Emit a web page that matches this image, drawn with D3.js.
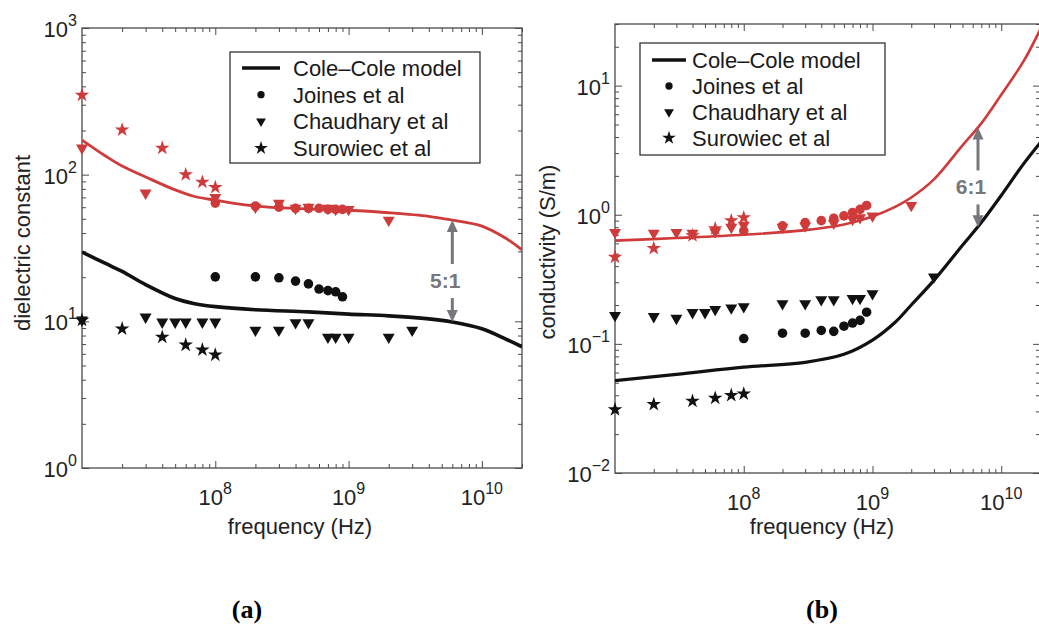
<!DOCTYPE html>
<html>
<head>
<meta charset="utf-8">
<script src="https://cdn.jsdelivr.net/npm/d3@7"></script>
<style>
  body { margin: 0; background: #fff; }
  text { font-family: "Liberation Sans", Arial, Helvetica, sans-serif; }
</style>
</head>
<body>
<div id="chart"></div>
<script>
// ---- data ----
const xTicks = [1e8, 1e9, 1e10];
const xDomain = [1e7, 2e10];
const epsTicks = [1, 10, 100, 1000];
const sigTicks = [0.01, 0.1, 1, 10];

// Cole-Cole model curves, panel (a) dielectric constant
const epsModelFreq = [1e7, 1.5e7, 2e7, 3e7, 5e7, 7e7, 1e8, 2e8, 5e8, 1e9, 2e9, 4e9, 6e9, 1e10, 1.5e10, 2e10];
const epsModelRed = [172, 134, 114.5, 96.5, 78.7, 71, 67, 61, 58.5, 57.2, 55, 52, 49, 44.6, 37, 30.7];
const epsModelBlack = [29.7, 24.8, 21.9, 17.8, 14.3, 13.2, 12.6, 12.0, 11.6, 11.2, 10.9, 10.4, 9.9, 8.9, 7.6, 6.7];

// Cole-Cole model curves, panel (b) conductivity
const sigModelFreq = [1e7, 3e7, 1e8, 3e8, 6e8, 1e9, 1.5e9, 2e9, 3e9, 5e9, 7e9, 1e10, 1.5e10, 2e10];
const sigModelRed = [0.63, 0.66, 0.70, 0.76, 0.84, 0.97, 1.15, 1.36, 1.88, 3.45, 5.1, 8.5, 15.6, 27];
const sigModelBlack = [0.052, 0.058, 0.066, 0.072, 0.083, 0.107, 0.147, 0.20, 0.31, 0.58, 0.87, 1.41, 2.5, 3.6];

// Joines et al
const joinesFreq = [1e8, 2e8, 3e8, 4e8, 5e8, 6e8, 7e8, 8e8, 9e8];
const epsJoinesRed = [64, 61, 60, 59, 59, 59, 58, 58, 58];
const epsJoinesBlack = [20.1, 20.1, 19.8, 18.8, 18.0, 16.6, 16.2, 15.9, 14.7];
const sigJoinesRed = [0.75, 0.82, 0.87, 0.90, 0.94, 0.98, 1.04, 1.10, 1.18];
const sigJoinesBlack = [0.110, 0.121, 0.121, 0.127, 0.125, 0.137, 0.145, 0.152, 0.176];

// Chaudhary et al
const epsChaudBlackFreq = [1e7, 3e7, 4e7, 5e7, 6e7, 8e7, 1e8, 2e8, 3e8, 4e8, 5e8, 7e8, 8e8, 1e9, 2e9, 3e9];
const epsChaudBlack = [10.2, 10.7, 9.9, 9.9, 9.9, 9.9, 9.9, 8.7, 8.7, 9.8, 9.8, 7.8, 7.8, 7.8, 7.8, 8.7];
const epsChaudRedFreq = [1e7, 3e7, 1e8, 2e8, 3e8, 4e8, 5e8, 7e8, 8e8, 1e9, 2e9];
const epsChaudRed = [152, 75, 70, 60, 64, 59, 60, 59, 58, 58, 49];
const sigChaudBlackFreq = [1e7, 2e7, 3e7, 4e7, 5e7, 6e7, 8e7, 1e8, 2e8, 3e8, 4e8, 5e8, 7e8, 8e8, 1e9, 3e9];
const sigChaudBlack = [0.166, 0.163, 0.158, 0.175, 0.175, 0.185, 0.19, 0.194, 0.205, 0.205, 0.22, 0.22, 0.225, 0.225, 0.245, 0.33];
const sigChaudRedFreq = [1e7, 2e7, 3e7, 4e7, 6e7, 8e7, 1e8, 2e8, 3e8, 5e8, 7e8, 8e8, 1e9, 2e9];
const sigChaudRed = [0.73, 0.72, 0.73, 0.72, 0.74, 0.80, 0.83, 0.80, 0.82, 0.86, 0.92, 0.95, 0.98, 1.18];

// Surowiec et al
const surFreq = [1e7, 2e7, 4e7, 6e7, 8e7, 1e8];
const epsSurRed = [349, 202, 152, 100, 89, 82];
const epsSurBlack = [10.2, 8.9, 7.8, 6.9, 6.4, 5.9];
const sigSurRed = [0.47, 0.55, 0.69, 0.78, 0.90, 0.95];
const sigSurBlack = [0.031, 0.034, 0.036, 0.038, 0.040, 0.041];

// ratio arrows
const ratioFreq = [6e9, 6.6e9];
const ratioTop = [49, 4.73];
const ratioBottom = [9.9, 0.80];
const ratioLabels = ["5:1", "6:1"];

const legendLabels = ["Cole\u2013Cole model", "Joines et al", "Chaudhary et al", "Surowiec et al"];

const red = "#cf3a3a";
const black = "#111";
const axisColor = "#4a4a4a";
const arrowColor = "#76767c";

const svg = d3.select("#chart")
    .append("svg")
    .attr("width", 1039)
    .attr("height", 630);

const symbols = {
    circle: d3.symbol().type(d3.symbolCircle).size(72),
    tri: d3.symbol().type(d3.symbolTriangle).size(62),
    star: d3.symbol().type(d3.symbolStar).size(66)
};
const legendSymbols = {
    circle: d3.symbol().type(d3.symbolCircle).size(42),
    tri: d3.symbol().type(d3.symbolTriangle).size(42),
    star: d3.symbol().type(d3.symbolStar).size(58)
};

const pairs = (f, v) => f.map((d, i) => ({f: d, v: v[i]}));

const minorTicks = (domain) => {
    const out = [];
    for (let e = Math.floor(Math.log10(domain[0])); e <= Math.ceil(Math.log10(domain[1])); e++) {
        for (let m = 2; m <= 9; m++) {
            const v = m * Math.pow(10, e);
            if (v >= domain[0] && v <= domain[1]) out.push(v);
        }
    }
    return out;
};

// "10" with a raised exponent
const powLabel = (sel) => {
    sel.each(function (d) {
        const t = d3.select(this);
        t.text(null);
        t.append("tspan").text("10");
        t.append("tspan")
            .attr("dy", -11)
            .style("font-size", "16px")
            .text(String(Math.round(Math.log10(d))).replace("-", "\u2212"));
    });
};

const drawPanel = (p) => {
    const x = d3.scaleLog().domain(xDomain).range(p.xRange);
    const y = d3.scaleLog().domain(p.yDomain).range(p.yRange);
    const g = svg.append("g");
    const [x0, x1] = p.xRange;
    const [y0, y1] = p.yRange;

    g.append("clipPath").attr("id", "clip" + p.id)
        .append("rect")
        .attr("x", x0).attr("y", y1)
        .attr("width", x1 - x0).attr("height", y0 - y1);

    // ticks (inward, mirrored)
    const xMinor = minorTicks(xDomain);
    const yMinor = minorTicks(p.yDomain);
    const tickAxes = [
        [d3.axisBottom(x).tickValues(xTicks).tickSize(-7), `translate(0,${y0})`],
        [d3.axisBottom(x).tickValues(xMinor).tickSize(-4), `translate(0,${y0})`],
        [d3.axisTop(x).tickValues(xTicks).tickSize(-7), `translate(0,${y1})`],
        [d3.axisTop(x).tickValues(xMinor).tickSize(-4), `translate(0,${y1})`],
        [d3.axisLeft(y).tickValues(p.yTicks).tickSize(-7), `translate(${x0},0)`],
        [d3.axisLeft(y).tickValues(yMinor).tickSize(-4), `translate(${x0},0)`],
        [d3.axisRight(y).tickValues(p.yTicks).tickSize(-7), `translate(${x1},0)`],
        [d3.axisRight(y).tickValues(yMinor).tickSize(-4), `translate(${x1},0)`]
    ];
    tickAxes.forEach(([ax, tr]) => {
        g.append("g")
            .attr("transform", tr)
            .call(ax.tickFormat(""))
            .call(a => a.select(".domain").remove())
            .call(a => a.selectAll("line").attr("stroke", axisColor).attr("stroke-width", 1));
    });

    g.append("rect")
        .attr("x", x0).attr("y", y1)
        .attr("width", x1 - x0).attr("height", y0 - y1)
        .attr("fill", "none")
        .attr("stroke", axisColor)
        .attr("stroke-width", 1.3);

    // tick labels
    g.selectAll(".xlbl")
        .data(xTicks)
        .join("text")
        .attr("class", "xlbl")
        .attr("x", d => x(d))
        .attr("y", y0 + 37)
        .attr("text-anchor", "middle")
        .style("font-size", "22px")
        .attr("fill", "#222")
        .call(powLabel);

    g.selectAll(".ylbl")
        .data(p.yTicks)
        .join("text")
        .attr("class", "ylbl")
        .attr("x", x0 - 5)
        .attr("y", d => y(d) + 9)
        .attr("text-anchor", "end")
        .style("font-size", "22px")
        .attr("fill", "#222")
        .call(powLabel);

    // axis titles
    g.append("text")
        .attr("x", p.xLabelPos[0])
        .attr("y", p.xLabelPos[1])
        .attr("text-anchor", "middle")
        .style("font-size", "22px")
        .attr("fill", "#222")
        .text("frequency (Hz)");

    g.append("text")
        .attr("transform", `translate(${p.yLabelPos[0]},${p.yLabelPos[1]}) rotate(-90)`)
        .attr("text-anchor", "middle")
        .attr("dominant-baseline", "central")
        .style("font-size", "22px")
        .attr("fill", "#222")
        .text(p.yLabel);

    const plot = g.append("g").attr("clip-path", `url(#clip${p.id})`);

    // model curves
    const line = d3.line().x(d => x(d.f)).y(d => y(d.v)).curve(d3.curveCatmullRom.alpha(0.5));
    p.models.forEach(m => {
        plot.append("path")
            .datum(pairs(m.freq, m.vals))
            .attr("d", line)
            .attr("fill", "none")
            .attr("stroke", m.color)
            .attr("stroke-width", m.width);
    });

    // measured points (drawn over the frame, not clipped)
    p.series.forEach(s => {
        g.append("g")
            .selectAll("path")
            .data(pairs(s.freq, s.vals))
            .join("path")
            .attr("d", symbols[s.shape])
            .attr("transform", d => `translate(${x(d.f)},${y(d.v)})` + (s.shape === "tri" ? " rotate(180)" : ""))
            .attr("fill", s.color);
    });

    // ratio arrow
    const ax = x(ratioFreq[p.id]);
    const ayTop = y(ratioTop[p.id]);
    const ayBot = y(ratioBottom[p.id]);
    const ag = g.append("g");
    ag.append("line")
        .attr("x1", ax).attr("x2", ax)
        .attr("y1", ayTop + 8).attr("y2", ayBot - 8)
        .attr("stroke", arrowColor).attr("stroke-width", 3);
    ag.append("path")
        .attr("d", `M${ax},${ayTop} l-5.5,12 l11,0 Z`)
        .attr("fill", arrowColor);
    ag.append("path")
        .attr("d", `M${ax},${ayBot} l-5.5,-12 l11,0 Z`)
        .attr("fill", arrowColor);
    const ly = (ayTop + ayBot) / 2 + 9;
    ag.append("rect")
        .attr("x", ax - 24).attr("y", ly - 16)
        .attr("width", 34).attr("height", 34)
        .attr("fill", "#fff");
    ag.append("text")
        .attr("x", ax - 7)
        .attr("y", ly + 8)
        .attr("text-anchor", "middle")
        .style("font-size", "21px")
        .style("font-weight", "bold")
        .attr("fill", arrowColor)
        .text(ratioLabels[p.id]);

    // legend
    const L = p.legend;
    const lg = g.append("g");
    lg.append("rect")
        .attr("x", L.x).attr("y", L.y)
        .attr("width", L.w).attr("height", L.h)
        .attr("fill", "#fff")
        .attr("stroke", "#333")
        .attr("stroke-width", 1.3);
    const mx = (L.lineX0 + L.lineX1) / 2;
    legendLabels.forEach((lab, i) => {
        const ry = L.y + L.row0 + i * L.rowDy;
        if (i === 0) {
            lg.append("line")
                .attr("x1", L.lineX0).attr("x2", L.lineX1)
                .attr("y1", ry).attr("y2", ry)
                .attr("stroke", black).attr("stroke-width", 3.5);
        } else {
            const shape = ["circle", "tri", "star"][i - 1];
            lg.append("path")
                .attr("d", legendSymbols[shape])
                .attr("transform", `translate(${mx},${ry})` + (shape === "tri" ? " rotate(180)" : ""))
                .attr("fill", black);
        }
        lg.append("text")
            .attr("x", L.textX)
            .attr("y", ry + 8)
            .style("font-size", "22px")
            .attr("fill", "#1a1a1a")
            .text(lab);
    });
};

drawPanel({
    id: 0,
    xRange: [82, 522],
    yRange: [468, 28],
    yDomain: [1, 1000],
    yTicks: epsTicks,
    yLabel: "dielectric constant",
    yLabelPos: [22, 243],
    xLabelPos: [300, 534],
    models: [
        {freq: epsModelFreq, vals: epsModelRed, color: red, width: 2.8},
        {freq: epsModelFreq, vals: epsModelBlack, color: black, width: 3.6}
    ],
    series: [
        {freq: joinesFreq, vals: epsJoinesRed, shape: "circle", color: red},
        {freq: epsChaudRedFreq, vals: epsChaudRed, shape: "tri", color: red},
        {freq: surFreq, vals: epsSurRed, shape: "star", color: red},
        {freq: joinesFreq, vals: epsJoinesBlack, shape: "circle", color: black},
        {freq: epsChaudBlackFreq, vals: epsChaudBlack, shape: "tri", color: black},
        {freq: surFreq, vals: epsSurBlack, shape: "star", color: black}
    ],
    legend: {x: 230, y: 52, w: 250, h: 111, row0: 16, rowDy: 26.7, lineX0: 242, lineX1: 280, textX: 293}
});

drawPanel({
    id: 1,
    xRange: [615, 1040],
    yRange: [473, 24],
    yDomain: [0.01, 30],
    yTicks: sigTicks,
    yLabel: "conductivity (S/m)",
    yLabelPos: [547, 252],
    xLabelPos: [822, 534],
    models: [
        {freq: sigModelFreq, vals: sigModelRed, color: red, width: 2.6},
        {freq: sigModelFreq, vals: sigModelBlack, color: black, width: 3.2}
    ],
    series: [
        {freq: joinesFreq, vals: sigJoinesRed, shape: "circle", color: red},
        {freq: sigChaudRedFreq, vals: sigChaudRed, shape: "tri", color: red},
        {freq: surFreq, vals: sigSurRed, shape: "star", color: red},
        {freq: joinesFreq, vals: sigJoinesBlack, shape: "circle", color: black},
        {freq: sigChaudBlackFreq, vals: sigChaudBlack, shape: "tri", color: black},
        {freq: surFreq, vals: sigSurBlack, shape: "star", color: black}
    ],
    legend: {x: 640, y: 43, w: 245, h: 112, row0: 17, rowDy: 26, lineX0: 652, lineX1: 686, textX: 692}
});

// panel captions
svg.selectAll(".caption")
    .data(["(a)", "(b)"])
    .join("text")
    .attr("class", "caption")
    .attr("x", (d, i) => [247, 822][i])
    .attr("y", 618)
    .attr("text-anchor", "middle")
    .style("font-family", "'Liberation Serif', 'Times New Roman', serif")
    .style("font-size", "26px")
    .style("font-weight", "bold")
    .text(d => d);
</script>
</body>
</html>
